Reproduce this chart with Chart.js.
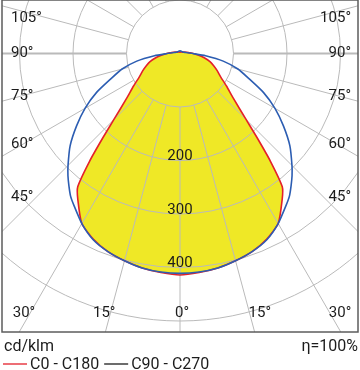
<!DOCTYPE html>
<html>
<head>
<meta charset="utf-8">
<script src="https://cdn.jsdelivr.net/npm/chart.js@4.4.0/dist/chart.umd.min.js"></script>
<style>
  html, body { margin: 0; padding: 0; background: #fff; }
  #wrap { width: 360px; height: 370px; }
</style>
</head>
<body>
<div id="wrap"><canvas id="polar" width="360" height="370"></canvas></div>
<script>
// Luminous intensity in cd/klm, angle from nadir (0°) to zenith (180°)
const angles = [0, 5, 10, 15, 20, 25, 30, 35, 37.5, 40, 42.5, 45, 50, 55, 60, 65, 70, 75, 80, 85, 90, 95, 100, 110, 120, 135, 150, 165, 180];
const c0c180 = [414, 411, 407, 401, 394, 383, 367, 333, 314, 263, 213, 175, 130, 106, 88, 77, 67, 58, 46, 34, 25, 17, 13, 8, 5, 4, 3, 3, 3];
const c90c270 = [411, 410, 407, 401, 394, 384, 367, 346, 336, 323, 310, 296, 268, 236, 205, 172, 137, 112, 82, 48, 24, 15, 11, 7, 6, 5, 5, 5, 5];

const rings = [100, 200, 300, 400, 500];
const ringLabels = [200, 300, 400];
const angleLabels = [105, 90, 75, 60, 45, 30, 15, 0];

const PX_PER_UNIT = 0.535;

// left half from zenith down to nadir, then right half back up
function curvePoints(values) {
  const pts = [];
  for (let i = angles.length - 1; i >= 0; i--) {
    const t = angles[i] * Math.PI / 180;
    pts.push({ x: -values[i] * Math.sin(t), y: -values[i] * Math.cos(t) });
  }
  for (let i = 1; i < angles.length; i++) {
    const t = angles[i] * Math.PI / 180;
    pts.push({ x: values[i] * Math.sin(t), y: -values[i] * Math.cos(t) });
  }
  return pts;
}

const polarGrid = {
  id: 'polarGrid',
  afterDatasetDraw(chart, args) {
    if (args.index !== 2) return; // right after the yellow area
    const { ctx, chartArea: area, scales: { x, y } } = chart;
    const cx = x.getPixelForValue(0), cy = y.getPixelForValue(0);
    const rad = v => x.getPixelForValue(v) - cx;
    ctx.save();
    ctx.beginPath();
    ctx.rect(area.left, area.top, area.right - area.left, area.bottom - area.top);
    ctx.clip();
    ctx.strokeStyle = '#bababa';
    ctx.lineWidth = 1;
    rings.forEach(v => {
      ctx.beginPath();
      ctx.arc(cx, cy, rad(v), 0, Math.PI * 2);
      ctx.stroke();
    });
    const r0 = rad(rings[0]), r1 = rad(1200);
    for (let a = 0; a < 360; a += 15) {
      const t = a * Math.PI / 180;
      const dx = Math.sin(t), dy = Math.cos(t);
      ctx.lineWidth = a % 180 === 90 ? 2.2 : 1;
      ctx.beginPath();
      ctx.moveTo(cx + dx * r0, cy + dy * r0);
      ctx.lineTo(cx + dx * r1, cy + dy * r1);
      ctx.stroke();
    }
    ctx.restore();
  },
  afterDraw(chart) {
    const { ctx, chartArea: area, scales: { x, y } } = chart;
    const cx = x.getPixelForValue(0), cy = y.getPixelForValue(0);
    const rad = v => x.getPixelForValue(v) - cx;
    ctx.save();

    // frame
    ctx.strokeStyle = '#5c5c5c';
    ctx.lineWidth = 1.5;
    ctx.strokeRect(area.left, area.top, area.right - area.left, area.bottom - area.top);

    ctx.fillStyle = '#1c1c1c';
    ctx.font = '15px Roboto';

    // ring values
    ctx.textAlign = 'center';
    ctx.textBaseline = 'alphabetic';
    ringLabels.forEach(v => ctx.fillText(String(v), cx, cy + rad(v) - 0.5));

    // angle labels
    ctx.textBaseline = 'middle';
    const bottomY = area.bottom - 19;
    const sideCenter = area.left + 20;
    angleLabels.forEach(a => {
      const txt = a + '°';
      const t = a * Math.PI / 180;
      if (a === 0) {
        ctx.textAlign = 'center';
        ctx.fillText(txt, cx + 2, bottomY);
        return;
      }
      const bx = a < 90 ? (bottomY - cy) * Math.tan(t) : Infinity;
      if (cx - bx >= sideCenter) {
        ctx.textAlign = 'right';
        ctx.fillText(txt, cx - bx + 5, bottomY);
        ctx.textAlign = 'left';
        ctx.fillText(txt, cx + bx - 1, bottomY);
      } else {
        let ys = cy + (cx - sideCenter) * Math.cos(t) / Math.sin(t);
        ys = Math.min(Math.max(ys, area.top + 18), area.top + 197);
        ctx.textAlign = 'left';
        ctx.fillText(txt, area.left + 9, ys);
        ctx.textAlign = 'right';
        ctx.fillText(txt, area.right - 7, ys);
      }
    });

    // unit, efficiency and legend under the frame
    ctx.font = '16px Roboto';
    ctx.textBaseline = 'alphabetic';
    ctx.textAlign = 'left';
    ctx.fillText('cd/klm', 4, area.bottom + 19);
    ctx.textAlign = 'right';
    ctx.fillText('η=100%', area.right, area.bottom + 19);

    ctx.textAlign = 'left';
    let lx = 3;
    const ly = area.bottom + 32;
    const items = [
      { text: chart.data.datasets[0].label, color: '#e4202a' },
      { text: chart.data.datasets[1].label, color: '#1c1c1c' }
    ];
    items.forEach(it => {
      ctx.strokeStyle = it.color;
      ctx.lineWidth = 1.3;
      ctx.beginPath();
      ctx.moveTo(lx, ly);
      ctx.lineTo(lx + 24, ly);
      ctx.stroke();
      lx += 27;
      ctx.fillText(it.text, lx, ly + 4.5);
      lx += ctx.measureText(it.text).width + 5;
    });
    ctx.restore();
  }
};

const chart = new Chart(document.getElementById('polar'), {
  type: 'scatter',
  data: {
    datasets: [
      {
        label: 'C0 - C180',
        data: curvePoints(c0c180),
        showLine: true,
        borderColor: '#e4202a',
        borderWidth: 1.6,
        pointRadius: 0,
        tension: 0.2,
        fill: false,
        order: 2
      },
      {
        label: 'C90 - C270',
        data: curvePoints(c90c270),
        showLine: true,
        borderColor: '#2c5db2',
        borderWidth: 1.6,
        pointRadius: 0,
        tension: 0.2,
        fill: false,
        order: 1
      },
      {
        label: 'area',
        data: curvePoints(c0c180),
        showLine: true,
        borderWidth: 0,
        borderColor: 'rgba(0,0,0,0)',
        backgroundColor: '#efe826',
        pointRadius: 0,
        tension: 0.2,
        fill: 'shape',
        order: 3
      }
    ]
  },
  options: {
    responsive: false,
    animation: false,
    layout: { padding: { left: 2, right: 2, top: 0, bottom: 38 } },
    scales: {
      x: { type: 'linear', display: false, min: -178 / PX_PER_UNIT, max: 178 / PX_PER_UNIT },
      y: { type: 'linear', display: false, min: -278.5 / PX_PER_UNIT, max: 53.5 / PX_PER_UNIT }
    },
    plugins: {
      legend: { display: false },
      tooltip: { enabled: false }
    }
  },
  plugins: [polarGrid]
});
</script>
</body>
</html>
